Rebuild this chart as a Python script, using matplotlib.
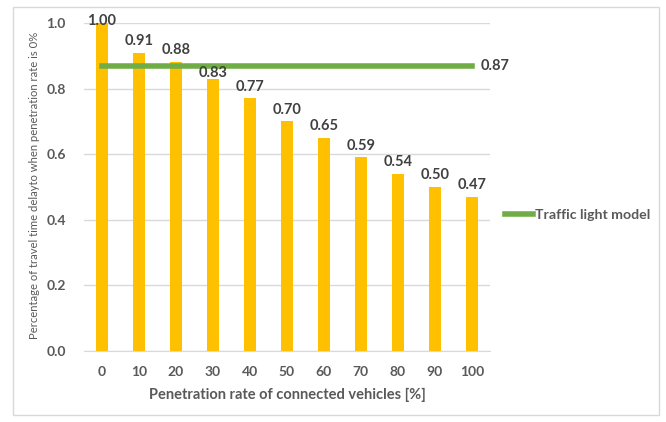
import matplotlib.pyplot as plt
from matplotlib.patches import Rectangle
from matplotlib.lines import Line2D

# Penetration rates and the relative delay for each
rates = ['0', '10', '20', '30', '40', '50', '60', '70', '80', '90', '100']
delay_ratio = [1.00, 0.91, 0.88, 0.83, 0.77, 0.70, 0.65, 0.59, 0.54, 0.50, 0.47]
traffic_light = 0.87

bar_color = '#FFC000'
line_color = '#70AD47'
text_color = '#595959'
label_color = '#404040'

plt.rcParams['font.family'] = ['Lato', 'DejaVu Sans']

fig = plt.figure(figsize=(6.66, 4.22), dpi=100)
ax = fig.add_axes([84 / 666, 1 - 351 / 422, 406 / 666, 328 / 422])

x = list(range(len(rates)))
bars = ax.bar(x, delay_ratio, width=0.33, color=bar_color, zorder=2)
for xi, v in zip(x, delay_ratio):
    y = v + 0.024
    # labels that would run into the green line sit just under it
    if traffic_light - 0.04 < y < traffic_light + 0.01:
        y = v + 0.006
    y = min(y, 0.994)  # keep the top label inside the plot area
    ax.text(xi, y, f'{v:.2f}', ha='center', va='baseline', fontsize=10.5,
            fontweight='bold', color=label_color, clip_on=False, zorder=4)

# flat reference line for the signal-controlled case
ax.plot([x[0], x[-1]], [traffic_light, traffic_light], color=line_color,
        lw=4, solid_capstyle='projecting', zorder=3)
ax.text(x[-1] + 0.24, traffic_light, f'{traffic_light:.2f}', ha='left', va='center',
        fontsize=10.5, fontweight='bold', color=label_color, clip_on=False)

ax.set_xlim(-0.48, 10.49)
ax.set_ylim(0, 1.0)
ax.set_yticks([0, 0.2, 0.4, 0.6, 0.8, 1.0])
ax.set_yticklabels(['0.0', '0.2', '0.4', '0.6', '0.8', '1.0'])
ax.set_xticks(x)
ax.set_xticklabels(rates)
ax.yaxis.grid(True, color='#D9D9D9', lw=1, zorder=0)
ax.set_axisbelow(True)
for s in ['top', 'right', 'left']:
    ax.spines[s].set_visible(False)
ax.spines['bottom'].set_color('#D9D9D9')
ax.tick_params(axis='both', length=0, colors=text_color, labelsize=10)
ax.tick_params(axis='y', pad=13)
ax.tick_params(axis='x', pad=11)
for lab in ax.get_xticklabels() + ax.get_yticklabels():
    lab.set_fontweight('bold')

ax.set_xlabel('Penetration rate of connected vehicles [%]', fontsize=10.5,
              fontweight='bold', color=text_color, labelpad=7)
fig.text(35 / 666, 1 - 185 / 422,
         'Percentage of travel time delayto when penetration rate is 0%',
         rotation=90, ha='center', va='center', fontsize=8.1, color=text_color)

handle = Line2D([], [], color=line_color, lw=4)
ax.legend([handle], ['Traffic light model'], loc='center left',
          bbox_to_anchor=(1 + 15 / 406, (351 - 215) / 328), frameon=False,
          borderaxespad=0, borderpad=0,
          handlelength=2.0, handletextpad=0.1,
          prop={'size': 10.2, 'weight': 'bold'}, labelcolor=text_color)

fig.patches.append(Rectangle((13 / 666, 1 - 415 / 422), 646 / 666, 408 / 422,
                             transform=fig.transFigure, fill=False,
                             edgecolor='#D9D9D9', lw=1))

fig.savefig('out.png', dpi=100)
